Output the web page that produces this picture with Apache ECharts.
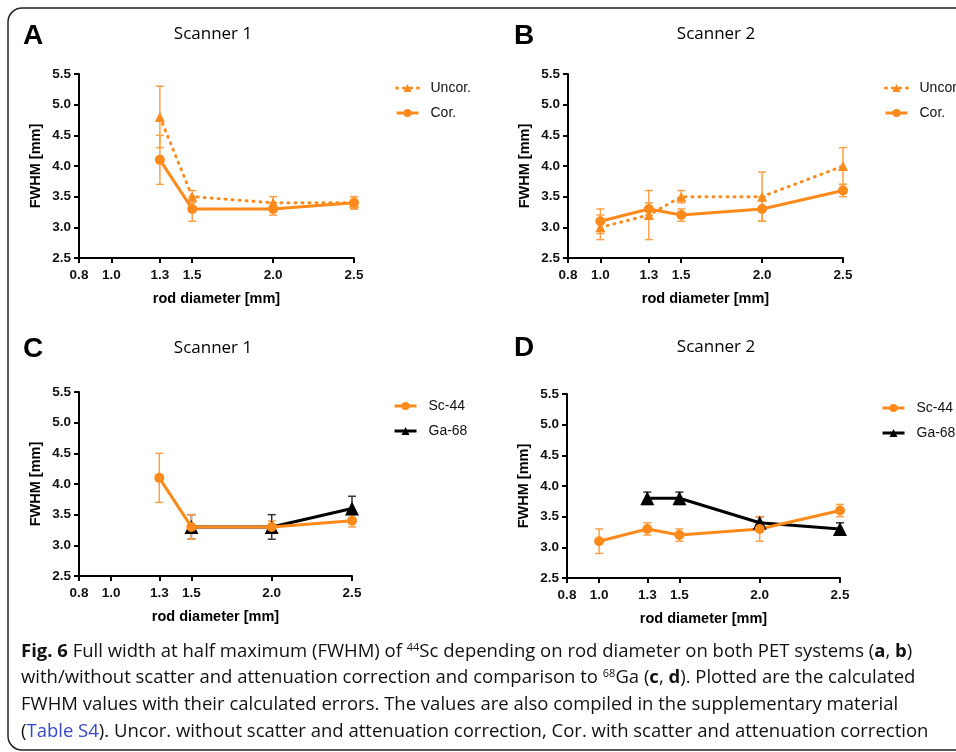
<!DOCTYPE html>
<html>
<head>
<meta charset="utf-8">
<script src="https://cdn.jsdelivr.net/npm/echarts@6/dist/echarts.min.js"></script>
<style>
  html, body { margin: 0; padding: 0; background: #fff; }
  #main { width: 956px; height: 752px; }
</style>
</head>
<body>
<div id="main"></div>
<script>
// rod diameter ticks (mm)
const xTicks = [0.8, 1.0, 1.3, 1.5, 2.0, 2.5];

// A - Scanner 1, with/without correction
const aDiam = [1.3, 1.5, 2.0, 2.5];
const aUncor = [4.8, 3.5, 3.4, 3.4];
const aUncorErr = [0.5, 0.1, 0.1, 0.1];
const aCor = [4.1, 3.3, 3.3, 3.4];
const aCorErr = [0.4, 0.2, 0.1, 0.1];

// B - Scanner 2, with/without correction
const bDiam = [1.0, 1.3, 1.5, 2.0, 2.5];
const bUncor = [3.0, 3.2, 3.5, 3.5, 4.0];
const bUncorErr = [0.2, 0.4, 0.1, 0.4, 0.3];
const bCor = [3.1, 3.3, 3.2, 3.3, 3.6];
const bCorErr = [0.2, 0.1, 0.1, 0.2, 0.1];

// C - Scanner 1, Sc-44 vs Ga-68
const cDiamSc = [1.3, 1.5, 2.0, 2.5];
const cSc = [4.1, 3.3, 3.3, 3.4];
const cScErr = [0.4, 0.2, 0.1, 0.1];
const cDiamGa = [1.5, 2.0, 2.5];
const cGa = [3.3, 3.3, 3.6];
const cGaErr = [0.2, 0.2, 0.2];

// D - Scanner 2, Sc-44 vs Ga-68
const dDiamSc = [1.0, 1.3, 1.5, 2.0, 2.5];
const dSc = [3.1, 3.3, 3.2, 3.3, 3.6];
const dScErr = [0.2, 0.1, 0.1, 0.2, 0.1];
const dDiamGa = [1.3, 1.5, 2.0, 2.5];
const dGa = [3.8, 3.8, 3.4, 3.3];
const dGaErr = [0.1, 0.1, 0.1, 0.1];

const ORANGE = '#FF8A1C';
const ORANGE_ERR = '#FFA047';
const BLACK = '#000';
const AXIS_FONT = 'Liberation Sans, Arial, sans-serif';

var myChart = echarts.init(document.getElementById('main'));

// grids: A, B, C, D
const grids = [
    { left: 79, top: 74, width: 275, height: 184 },
    { left: 568, top: 74, width: 275, height: 184 },
    { left: 79, top: 392, width: 273, height: 184 },
    { left: 567, top: 394, width: 273, height: 184 }
];

function makeXAxis(i) {
    return {
        type: 'value', gridIndex: i, min: 0.8, max: 2.5,
        name: 'rod diameter [mm]', nameLocation: 'middle', nameGap: 33,
        nameTextStyle: { fontFamily: AXIS_FONT, fontWeight: 'bold', fontSize: 14.5, color: '#000' },
        axisLine: { lineStyle: { color: '#000', width: 2 } },
        axisTick: { show: true, length: 5, lineStyle: { color: '#000', width: 2 }, customValues: xTicks },
        axisLabel: {
            customValues: xTicks, margin: 10,
            fontFamily: AXIS_FONT, fontWeight: 'bold', fontSize: 13.5, color: '#111',
            formatter: v => v.toFixed(1)
        },
        splitLine: { show: false }
    };
}

function makeYAxis(i) {
    return {
        type: 'value', gridIndex: i, min: 2.5, max: 5.5, interval: 0.5,
        name: 'FWHM [mm]', nameLocation: 'middle', nameGap: 36,
        nameTextStyle: { fontFamily: AXIS_FONT, fontWeight: 'bold', fontSize: 14.5, color: '#000' },
        axisLine: { show: true, lineStyle: { color: '#000', width: 2 } },
        axisTick: { show: true, length: 5, lineStyle: { color: '#000', width: 2 } },
        axisLabel: {
            margin: 8, fontFamily: AXIS_FONT, fontWeight: 'bold', fontSize: 13.5, color: '#111',
            formatter: v => v.toFixed(1)
        },
        splitLine: { show: false }
    };
}

// error bars as custom series
function errSeries(id, x, y, e, gi, color) {
    return {
        type: 'custom', name: id, xAxisIndex: gi, yAxisIndex: gi, z: 3, silent: true,
        data: x.map((v, i) => [v, y[i] - e[i], y[i] + e[i]]),
        renderItem: function (params, api) {
            const lo = api.coord([api.value(0), api.value(1)]);
            const hi = api.coord([api.value(0), api.value(2)]);
            const w = 4;
            const st = { stroke: color, lineWidth: 1.5 };
            return {
                type: 'group', children: [
                    { type: 'line', shape: { x1: lo[0], y1: lo[1], x2: hi[0], y2: hi[1] }, style: st },
                    { type: 'line', shape: { x1: lo[0] - w, y1: lo[1], x2: lo[0] + w, y2: lo[1] }, style: st },
                    { type: 'line', shape: { x1: hi[0] - w, y1: hi[1], x2: hi[0] + w, y2: hi[1] }, style: st }
                ]
            };
        }
    };
}

function lineSeries(name, x, y, gi, color, symbol, size, dotted) {
    return {
        type: 'line', name: name, xAxisIndex: gi, yAxisIndex: gi, z: 4,
        data: x.map((v, i) => [v, y[i]]),
        symbol: symbol, symbolSize: size, showSymbol: true,
        itemStyle: { color: color },
        lineStyle: dotted
            ? { color: color, width: 3, type: [1, 6], cap: 'round' }
            : { color: color, width: 3 },
        animation: false
    };
}

function legendAt(left, top, names) {
    return {
        left: left, top: top, orient: 'vertical', itemWidth: 22, itemHeight: 10, itemGap: 11,
        data: names, selectedMode: false,
        lineStyle: { width: 3 },
        textStyle: { fontFamily: AXIS_FONT, fontSize: 14, color: '#111', padding: [0, 0, 0, 7] }
    };
}

function txt(x, y, text, font, align) {
    return {
        type: 'text', x: x, y: y,
        style: { text: text, font: font, fill: '#000', textAlign: align || 'left', textVerticalAlign: 'middle' }
    };
}

const capRich = {
    b: { fontWeight: 'bold', fontFamily: 'Open Sans', fontSize: 18.5, fill: '#111' },
    sup: { fontFamily: 'Open Sans', fontSize: 11, fill: '#111', verticalAlign: 'top', padding: [0, 0, 8, 0] },
    link: { fontFamily: 'Open Sans', fontSize: 18.5, fill: '#3548C8' }
};
function capLine(y, text) {
    return {
        type: 'text', x: 21, y: y,
        style: {
            text: text, rich: capRich, fill: '#111',
            font: '18.5px "Open Sans"', textVerticalAlign: 'middle'
        }
    };
}

var option = {
    animation: false,
    grid: grids,
    xAxis: [0, 1, 2, 3].map(makeXAxis),
    yAxis: [0, 1, 2, 3].map(makeYAxis),
    legend: [
        legendAt(390, 76, ['Uncor.', 'Cor.']),
        legendAt(879, 76, ['Uncor.', 'Cor.']),
        legendAt(388, 394, ['Sc-44', 'Ga-68']),
        legendAt(876, 396, ['Sc-44', 'Ga-68'])
    ],
    series: [
        errSeries('eA1', aDiam, aUncor, aUncorErr, 0, ORANGE_ERR),
        errSeries('eA2', aDiam, aCor, aCorErr, 0, ORANGE_ERR),
        lineSeries('Uncor.', aDiam, aUncor, 0, ORANGE, 'triangle', 10, true),
        lineSeries('Cor.', aDiam, aCor, 0, ORANGE, 'circle', 10, false),

        errSeries('eB1', bDiam, bUncor, bUncorErr, 1, ORANGE_ERR),
        errSeries('eB2', bDiam, bCor, bCorErr, 1, ORANGE_ERR),
        lineSeries('Uncor.', bDiam, bUncor, 1, ORANGE, 'triangle', 10, true),
        lineSeries('Cor.', bDiam, bCor, 1, ORANGE, 'circle', 10, false),

        errSeries('eC2', cDiamGa, cGa, cGaErr, 2, '#333'),
        lineSeries('Ga-68', cDiamGa, cGa, 2, BLACK, 'triangle', 14, false),
        errSeries('eC1', cDiamSc, cSc, cScErr, 2, ORANGE_ERR),
        lineSeries('Sc-44', cDiamSc, cSc, 2, ORANGE, 'circle', 10, false),

        errSeries('eD2', dDiamGa, dGa, dGaErr, 3, '#333'),
        lineSeries('Ga-68', dDiamGa, dGa, 3, BLACK, 'triangle', 14, false),
        errSeries('eD1', dDiamSc, dSc, dScErr, 3, ORANGE_ERR),
        lineSeries('Sc-44', dDiamSc, dSc, 3, ORANGE, 'circle', 10, false)
    ],
    graphic: [
        {
            type: 'rect', silent: true,
            shape: { x: 8, y: 8, width: 990, height: 742, r: 14 },
            style: { fill: 'none', stroke: '#222', lineWidth: 1.5 }
        },
        txt(23, 36, 'A', 'bold 28px "Liberation Sans"'),
        txt(213, 34, 'Scanner 1', '17px "Open Sans"', 'center'),
        txt(514, 36, 'B', 'bold 28px "Liberation Sans"'),
        txt(716, 34, 'Scanner 2', '17px "Open Sans"', 'center'),
        txt(23, 349, 'C', 'bold 28px "Liberation Sans"'),
        txt(213, 348, 'Scanner 1', '17px "Open Sans"', 'center'),
        txt(514, 348, 'D', 'bold 28px "Liberation Sans"'),
        txt(716, 347, 'Scanner 2', '17px "Open Sans"', 'center'),
        capLine(652, '{b|Fig. 6} Full width at half maximum (FWHM) of {sup|44}Sc depending on rod diameter on both PET systems ({b|a}, {b|b})'),
        capLine(678, 'with/without scatter and attenuation correction and comparison to {sup|68}Ga ({b|c}, {b|d}). Plotted are the calculated'),
        capLine(705, 'FWHM values with their calculated errors. The values are also compiled in the supplementary material'),
        capLine(732, '({link|Table S4}). Uncor. without scatter and attenuation correction, Cor. with scatter and attenuation correction')
    ]
};

myChart.setOption(option);
</script>
</body>
</html>
